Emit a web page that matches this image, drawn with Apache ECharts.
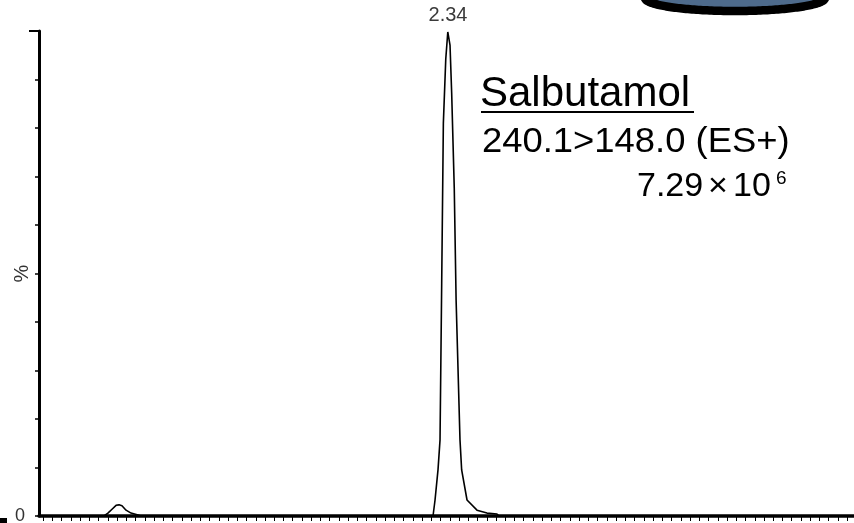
<!DOCTYPE html>
<html>
<head>
<meta charset="utf-8">
<script src="https://cdn.jsdelivr.net/npm/echarts@6/dist/echarts.min.js"></script>
<style>
  html, body { margin: 0; padding: 0; background: #ffffff; }
  #chart { width: 854px; height: 523px; }
</style>
</head>
<body>
<div id="chart"></div>
<script>
// Retention time (min) and relative intensity (%) of the MRM trace
const retentionTime = [
  0.127, 0.479, 0.500, 0.522, 0.544, 0.560, 0.576, 0.598, 0.625, 0.663, 0.679,
  2.259, 2.270, 2.286, 2.297, 2.306, 2.315, 2.328, 2.339, 2.340,
  2.351, 2.360, 2.374, 2.384, 2.405, 2.414, 2.443, 2.497, 2.551, 2.605, 2.616,
  4.537
];
const intensity = [
  0, 0, 0.6, 1.4, 2.2, 2.3, 2.1, 1.2, 0.6, 0.2, 0,
  0, 3.3, 9.5, 15.7, 48.0, 81.0, 94.2, 99.8, 100,
  97.1, 87.2, 67.6, 44.5, 15.7, 9.5, 3.3, 1.2, 0.6, 0.4, 0,
  0
];
const apexTime = 2.34;

// Axis settings
const timeMin = 0.127;
const timeMax = 4.537;
const timeTickStep = 0.05;
const yTicks = [0, 10, 20, 30, 40, 50, 60, 70, 80, 90, 100];

// Annotation text
const compoundName = 'Salbutamol';
const transition = '240.1>148.0 (ES+)';
const scaleMantissa = '7.29';
const scaleExponent = '6';

const timeTicks = [];
for (let t = 0.15; t <= timeMax + 1e-9; t += timeTickStep) {
  timeTicks.push(Math.round(t * 1000) / 1000);
}

const seriesData = retentionTime.map(function (t, i) {
  const item = { value: [t, intensity[i]] };
  if (t === apexTime) {
    item.label = {
      show: true,
      position: 'top',
      distance: 6,
      formatter: function (p) { return p.value[0].toFixed(2); },
      fontFamily: 'Liberation Sans',
      fontSize: 20,
      color: '#3a3a3a'
    };
  }
  return item;
});

// Decorative oval at the top-right corner
const ovalPoints = [];
for (let k = 0; k <= 240; k++) {
  const a = (k / 240) * Math.PI * 2;
  ovalPoints.push([735 + 90 * Math.cos(a), -2 + 13 * Math.sin(a)]);
}

// Text drawn with its vertical middle placed from a baseline
function baselineText(text, x, baseline, size, extra) {
  const el = {
    type: 'text',
    x: x,
    y: baseline - 0.31 * size,
    style: {
      text: text,
      fontFamily: 'Liberation Sans',
      fontSize: size,
      fill: '#000',
      verticalAlign: 'middle',
      align: 'left'
    },
    silent: true
  };
  if (extra) {
    Object.keys(extra).forEach(function (k) {
      if (k === 'style') { Object.assign(el.style, extra.style); } else { el[k] = extra[k]; }
    });
  }
  return el;
}

const chart = echarts.init(document.getElementById('chart'), null, { renderer: 'canvas' });
chart.setOption({
  animation: false,
  backgroundColor: '#ffffff',
  grid: { left: 39, right: 0, top: 31, bottom: 7, containLabel: false, outerBoundsMode: 'none' },
  xAxis: {
    type: 'value',
    min: timeMin,
    max: timeMax,
    axisLine: { show: true, lineStyle: { color: '#000', width: 3.5 } },
    axisTick: {
      show: true,
      inside: false,
      length: 5,
      lineStyle: { color: '#000', width: 1 },
      customValues: timeTicks
    },
    axisLabel: { show: false },
    splitLine: { show: false }
  },
  yAxis: {
    type: 'value',
    min: yTicks[0],
    max: yTicks[yTicks.length - 1],
    interval: yTicks[1] - yTicks[0],
    name: '%',
    nameLocation: 'middle',
    nameRotate: 90,
    nameGap: 7,
    nameMoveOverlap: false,
    nameTextStyle: { fontFamily: 'Liberation Sans', fontSize: 20, color: '#333' },
    axisLine: { show: true, lineStyle: { color: '#000', width: 3 } },
    axisTick: { show: true, inside: false, length: 4, lineStyle: { color: '#000', width: 1.5 } },
    axisLabel: {
      show: true,
      margin: 14,
      fontFamily: 'Liberation Sans',
      fontSize: 18,
      color: '#333',
      formatter: function (v) { return v === 0 ? '0' : ''; }
    },
    splitLine: { show: false }
  },
  series: [{
    type: 'line',
    data: seriesData,
    symbol: 'circle',
    symbolSize: 0,
    showSymbol: true,
    lineStyle: { color: '#000', width: 1.6 },
    itemStyle: { color: '#000' },
    clip: false,
    silent: true
  }],
  graphic: [
    {
      type: 'polygon',
      shape: { points: ovalPoints },
      style: { fill: '#4e6b8c', stroke: '#000', lineWidth: 8.5 },
      silent: true
    },
    {
      type: 'line',
      shape: { x1: 29, y1: 31, x2: 39, y2: 31 },
      style: { stroke: '#000', lineWidth: 2 },
      silent: true
    },
    {
      type: 'rect',
      shape: { x: 0, y: 518, width: 7, height: 5 },
      style: { fill: '#000' },
      silent: true
    },
    baselineText(compoundName, 480, 107, 42),
    {
      type: 'line',
      shape: { x1: 481, y1: 112, x2: 694, y2: 112 },
      style: { stroke: '#000', lineWidth: 2 },
      silent: true
    },
    baselineText(transition, 482, 153, 35, { scaleX: 1.04 }),
    baselineText(scaleMantissa, 637, 197, 34),
    baselineText('\u00d7', 718, 197, 34, { style: { align: 'center' } }),
    baselineText('10', 733, 197, 34),
    baselineText(scaleExponent, 776, 185, 19)
  ]
});
</script>
</body>
</html>
